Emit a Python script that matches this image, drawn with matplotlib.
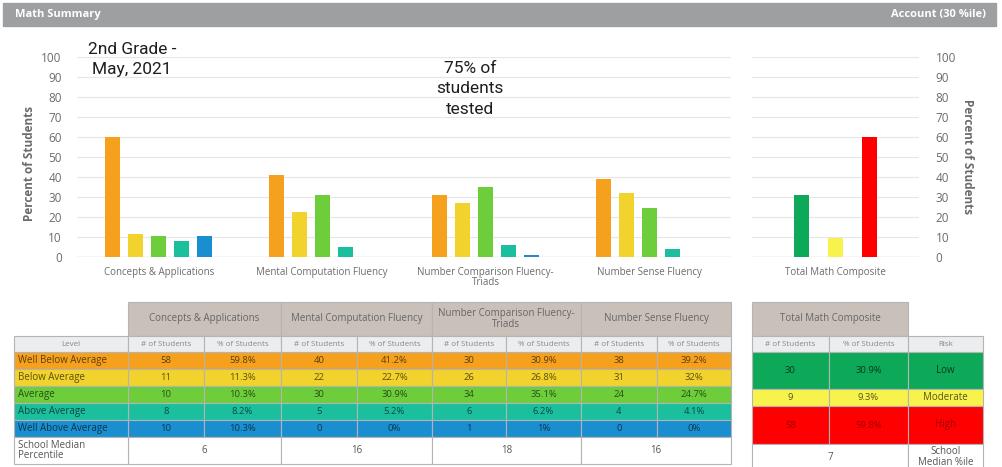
import matplotlib
matplotlib.use("Agg")
import matplotlib.pyplot as plt
from matplotlib.patches import Rectangle
from matplotlib.colors import to_rgb
import numpy as np

categories = ["Concepts & Applications", "Mental Computation Fluency",
              "Number Comparison Fluency-\nTriads", "Number Sense Fluency"]
levels = ["Well Below Average", "Below Average", "Average", "Above Average", "Well Above Average"]
level_colors = ["#f6a11d", "#f2d22c", "#6ecd3b", "#1bbf9e", "#1a8fd0"]

concepts_n = [58, 11, 10, 8, 10]
mental_n = [40, 22, 30, 5, 0]
comparison_n = [30, 26, 34, 6, 1]
sense_n = [38, 31, 24, 4, 0]

concepts_pct = [59.8, 11.3, 10.3, 8.2, 10.3]
mental_pct = [41.2, 22.7, 30.9, 5.2, 0]
comparison_pct = [30.9, 26.8, 35.1, 6.2, 1]
sense_pct = [39.2, 32, 24.7, 4.1, 0]

medians = [6, 16, 18, 16]

composite_label = "Total Math Composite"
risk = ["Low", "Moderate", "High"]
risk_colors = ["#0ea958", "#f8f24c", "#fe0000"]
composite_n = [30, 9, 58]
composite_pct = [30.9, 9.3, 59.8]
composite_median = 7

counts = [concepts_n, mental_n, comparison_n, sense_n]
pcts = [concepts_pct, mental_pct, comparison_pct, sense_pct]

W, H = 1002, 467
fig = plt.figure(figsize=(W / 100, H / 100), dpi=100)
plt.rcParams['font.family'] = ['Open Sans', 'DejaVu Sans']


def box(x0, y0, x1, y1):
    # pixel box -> figure fraction
    return [x0 / W, (H - y1) / H, (x1 - x0) / W, (y1 - y0) / H]


def dark(c, f=0.38):
    r, g, b = to_rgb(c)
    return (r * f, g * f, b * f)


# background axes in pixel units for the header and the tables
bg = fig.add_axes([0, 0, 1, 1])
bg.set_xlim(0, W)
bg.set_ylim(H, 0)
bg.axis("off")

bg.add_patch(Rectangle((3, 3), 993, 23, color="#9e9fa1"))
bg.text(15, 15, "Math Summary", color="white", fontsize=8, fontweight="bold", va="center")
bg.text(986, 15, "Account (30 %ile)", color="white", fontsize=8, fontweight="bold",
        va="center", ha="right")

grid_c = "#e6e6e6"
tick_c = "#6b6b6b"

# ---- left chart
ax = fig.add_axes(box(77, 57, 731, 257))
ax.set_facecolor("none")
slot, bw = 0.1407, 0.092
for j in range(len(levels)):
    xs = np.arange(len(categories)) + (j - 2) * slot
    ax.bar(xs, [p[j] for p in pcts], width=bw, color=level_colors[j], zorder=3)
ax.set_xlim(-0.5, len(categories) - 0.5)
ax.set_ylim(0, 100)
ax.set_yticks(range(0, 101, 10))
ax.set_xticks(range(len(categories)))
ax.set_xticklabels(categories, fontsize=7, color=tick_c, linespacing=0.95)
ax.tick_params(axis="y", length=0, pad=11, labelsize=8.5, labelcolor=tick_c)
ax.tick_params(axis="x", length=0, pad=7)
ax.grid(axis="y", color=grid_c, lw=0.8, zorder=0)
for s in ax.spines.values():
    s.set_visible(False)
ax.axhline(0, color="#cdd5e6", lw=1, zorder=2)
ax.set_ylabel("Percent of Students", fontsize=8.5, fontweight="bold", color=tick_c)
ax.yaxis.set_label_coords(-0.062, 0.47)

# ---- right chart
ax2 = fig.add_axes(box(752, 57, 919, 257))
ax2.set_facecolor("none")
ax2.bar(range(3), composite_pct, width=0.44, color=risk_colors, zorder=3)
ax2.set_xlim(1 - 167 / 68, 1 + 167 / 68)
ax2.set_ylim(0, 100)
ax2.set_yticks(range(0, 101, 10))
ax2.set_xticks([1])
ax2.set_xticklabels([composite_label], fontsize=7, color=tick_c)
ax2.yaxis.tick_right()
ax2.yaxis.set_label_position("right")
ax2.tick_params(axis="y", length=0, pad=12, labelsize=8.5, labelcolor=tick_c)
ax2.tick_params(axis="x", length=0, pad=7)
ax2.grid(axis="y", color=grid_c, lw=0.8, zorder=0)
for s in ax2.spines.values():
    s.set_visible(False)
ax2.axhline(0, color="#cdd5e6", lw=1, zorder=2)
ax2.set_ylabel("Percent of Students", fontsize=8.5, fontweight="bold", color=tick_c,
               rotation=270, va="bottom")
ax2.yaxis.set_label_coords(1.25, 0.5)

# annotations
fig.text(132 / W, 1 - 42 / H, "2nd Grade -\nMay, 2021", family="Roboto", fontsize=12.5,
         ha="center", va="top", color="#1e1e1e", linespacing=1.45)
fig.text(470 / W, 1 - 61 / H, "75% of\nstudents\ntested", family="Roboto", fontsize=12.5,
         ha="center", va="top", color="#1e1e1e", linespacing=1.45)

# ---- tables
edge = "#b4b4b4"
head_c = "#c9c0b9"
sub_c = "#ecedef"


def cell(x0, y0, x1, y1, fc, txt="", tc="#333333", fs=6.8, ha="center", **kw):
    bg.add_patch(Rectangle((x0, y0), x1 - x0, y1 - y0, facecolor=fc, edgecolor=edge, lw=0.8))
    if txt != "":
        tx = (x0 + x1) / 2 if ha == "center" else x0 + 4
        bg.text(tx, (y0 + y1) / 2, txt, ha=ha, va="center", fontsize=fs, color=tc, **kw)


col_edges = [128, 204, 281, 357, 432, 506, 581, 657, 731]
row_edges = [352, 369, 386, 403, 420, 437]
cell(14, 336, 128, 352, sub_c, "Level", tc="#888888", fs=5.8)
for i, cat in enumerate(categories):
    xa, xm, xb = col_edges[2 * i], col_edges[2 * i + 1], col_edges[2 * i + 2]
    cell(xa, 302, xb, 336, head_c, cat, tc="#666666", fs=7, linespacing=0.95)
    cell(xa, 336, xm, 352, sub_c, "# of Students", tc="#888888", fs=5.8)
    cell(xm, 336, xb, 352, sub_c, "% of Students", tc="#888888", fs=5.8)
    for j in range(len(levels)):
        y0, y1 = row_edges[j], row_edges[j] + 17
        cell(xa, y0, xm, y1, level_colors[j], str(counts[i][j]), tc=dark(level_colors[j]))
        cell(xm, y0, xb, y1, level_colors[j], f"{pcts[i][j]:g}%", tc=dark(level_colors[j]))
    cell(xa, 437, xb, 464, "white", str(medians[i]), tc="#555555", fs=7)
for j, lv in enumerate(levels):
    cell(14, row_edges[j], 128, row_edges[j] + 17, level_colors[j], lv,
         tc=dark(level_colors[j]), ha="left", fs=7)
cell(14, 437, 128, 464, "white", "School Median\nPercentile", tc="#555555", ha="left", fs=7,
     linespacing=0.95)

# composite table
cx = [752, 829, 908, 983]
cy = [352, 389, 406, 444]
cell(cx[0], 302, cx[2], 336, head_c, composite_label, tc="#666666", fs=7)
cell(cx[0], 336, cx[1], 352, sub_c, "# of Students", tc="#888888", fs=5.8)
cell(cx[1], 336, cx[2], 352, sub_c, "% of Students", tc="#888888", fs=5.8)
cell(cx[2], 336, cx[3], 352, sub_c, "Risk", tc="#888888", fs=5.8)
for j in range(3):
    tc = dark(risk_colors[j], 0.35 if j < 2 else 0.62)
    cell(cx[0], cy[j], cx[1], cy[j + 1], risk_colors[j], str(composite_n[j]), tc=tc)
    cell(cx[1], cy[j], cx[2], cy[j + 1], risk_colors[j], f"{composite_pct[j]:g}%", tc=tc)
    cell(cx[2], cy[j], cx[3], cy[j + 1], risk_colors[j], risk[j], tc=tc, fs=7)
cell(cx[0], 444, cx[2], 470, "white", str(composite_median), tc="#555555", fs=7)
cell(cx[2], 444, cx[3], 470, "white", "School\nMedian %ile", tc="#555555", fs=7, linespacing=0.95)

fig.savefig("out.png", dpi=100)
